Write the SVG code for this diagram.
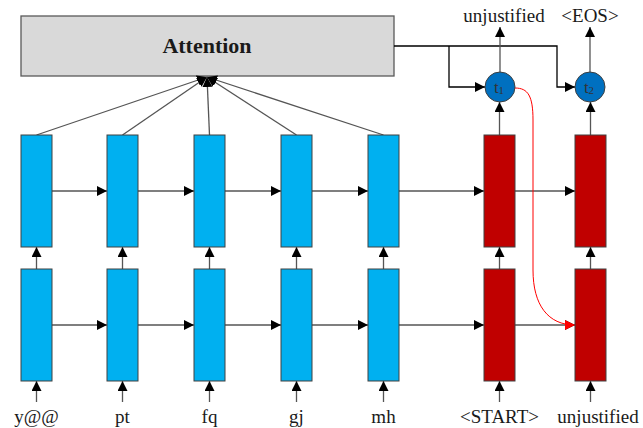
<svg xmlns="http://www.w3.org/2000/svg" width="643" height="428" viewBox="0 0 643 428">
<defs>
<marker id="ah" viewBox="0 0 10 10" refX="10" refY="5" markerWidth="10" markerHeight="10" markerUnits="userSpaceOnUse" orient="auto"><path d="M0,0 L10,5 L0,10 z" fill="#000"/></marker>
<marker id="ahr" viewBox="0 0 10 10" refX="10" refY="5" markerWidth="10" markerHeight="10" markerUnits="userSpaceOnUse" orient="auto"><path d="M0,0 L10,5 L0,10 z" fill="#FF0000"/></marker>
<style>
.blue{fill:#00B0F0;stroke:#404040;stroke-width:1}
.red{fill:#C00000;stroke:#404040;stroke-width:1}
.circ{fill:#0070C0;stroke:#404040;stroke-width:1}
.ln{fill:none;stroke:#555;stroke-width:1.3}
.lb{fill:none;stroke:#000;stroke-width:1.3}
text{font-family:'Liberation Serif','Times New Roman','DejaVu Serif',serif;fill:#1a1a1a;text-anchor:middle}
.lbl{font-size:19px}
.att{font-size:22px;font-weight:bold}
.ct{font-size:17px;fill:#333}
.sub{font-size:11px}
</style>
</defs>
<rect width="643" height="428" fill="#fff"/>
<g id="attention">
<rect x="21" y="16" width="373" height="60" fill="#D9D9D9" stroke="#595959" stroke-width="1.3"/>
<text x="207" y="53" class="att">Attention</text>
</g>
<g id="connectors">
<line class="ln" x1="36.5" y1="135" x2="207" y2="77" marker-end="url(#ah)"/>
<line class="ln" x1="122.5" y1="135" x2="207" y2="77" marker-end="url(#ah)"/>
<line class="ln" x1="209.5" y1="135" x2="207" y2="77" marker-end="url(#ah)"/>
<line class="ln" x1="296.5" y1="135" x2="207" y2="77" marker-end="url(#ah)"/>
<line class="ln" x1="383.5" y1="135" x2="207" y2="77" marker-end="url(#ah)"/>
<polyline class="lb" points="394,46 557,46 557,87 575,87" marker-end="url(#ah)"/>
<polyline class="lb" points="449,46 449,87 485,87" marker-end="url(#ah)"/>
<line class="ln" x1="500" y1="72" x2="500" y2="27" marker-end="url(#ah)"/>
<line class="ln" x1="590" y1="72" x2="590" y2="27" marker-end="url(#ah)"/>
<line class="ln" x1="499.5" y1="135" x2="499.5" y2="102" marker-end="url(#ah)"/>
<line class="ln" x1="590.5" y1="135" x2="590.5" y2="102" marker-end="url(#ah)"/>
<line class="ln" x1="52" y1="191" x2="107" y2="191" marker-end="url(#ah)"/>
<line class="ln" x1="138" y1="191" x2="194" y2="191" marker-end="url(#ah)"/>
<line class="ln" x1="225" y1="191" x2="281" y2="191" marker-end="url(#ah)"/>
<line class="ln" x1="312" y1="191" x2="368" y2="191" marker-end="url(#ah)"/>
<line class="ln" x1="399" y1="191" x2="484" y2="191" marker-end="url(#ah)"/>
<line class="ln" x1="515" y1="191" x2="575" y2="191" marker-end="url(#ah)"/>
<line class="ln" x1="52" y1="325" x2="107" y2="325" marker-end="url(#ah)"/>
<line class="ln" x1="138" y1="325" x2="194" y2="325" marker-end="url(#ah)"/>
<line class="ln" x1="225" y1="325" x2="281" y2="325" marker-end="url(#ah)"/>
<line class="ln" x1="312" y1="325" x2="368" y2="325" marker-end="url(#ah)"/>
<line class="ln" x1="399" y1="325" x2="484" y2="325" marker-end="url(#ah)"/>
<line class="ln" x1="515" y1="325" x2="575" y2="325" marker-end="url(#ah)"/>
<line class="ln" x1="36.5" y1="269" x2="36.5" y2="247" marker-end="url(#ah)"/>
<line class="ln" x1="122.5" y1="269" x2="122.5" y2="247" marker-end="url(#ah)"/>
<line class="ln" x1="209.5" y1="269" x2="209.5" y2="247" marker-end="url(#ah)"/>
<line class="ln" x1="296.5" y1="269" x2="296.5" y2="247" marker-end="url(#ah)"/>
<line class="ln" x1="383.5" y1="269" x2="383.5" y2="247" marker-end="url(#ah)"/>
<line class="ln" x1="499.5" y1="269" x2="499.5" y2="247" marker-end="url(#ah)"/>
<line class="ln" x1="590.5" y1="269" x2="590.5" y2="247" marker-end="url(#ah)"/>
<line class="ln" x1="36.5" y1="402" x2="36.5" y2="381" marker-end="url(#ah)"/>
<line class="ln" x1="122.5" y1="402" x2="122.5" y2="381" marker-end="url(#ah)"/>
<line class="ln" x1="209.5" y1="402" x2="209.5" y2="381" marker-end="url(#ah)"/>
<line class="ln" x1="296.5" y1="402" x2="296.5" y2="381" marker-end="url(#ah)"/>
<line class="ln" x1="383.5" y1="402" x2="383.5" y2="381" marker-end="url(#ah)"/>
<line class="ln" x1="499.5" y1="402" x2="499.5" y2="381" marker-end="url(#ah)"/>
<line class="ln" x1="590.5" y1="402" x2="590.5" y2="381" marker-end="url(#ah)"/>
<path d="M515,88 C528,88 533,96 533,120 L533,270 C533,305 548,325 575,325" fill="none" stroke="#FF0000" stroke-width="1" marker-end="url(#ahr)"/>
</g>
<g id="enc_top">
<rect class="blue" x="21" y="135" width="31" height="112"/>
<rect class="blue" x="107" y="135" width="31" height="112"/>
<rect class="blue" x="194" y="135" width="31" height="112"/>
<rect class="blue" x="281" y="135" width="31" height="112"/>
<rect class="blue" x="368" y="135" width="31" height="112"/>
</g>
<g id="dec_top">
<rect class="red" x="484" y="135" width="31" height="112"/>
<rect class="red" x="575" y="135" width="31" height="112"/>
</g>
<g id="enc_bottom">
<rect class="blue" x="21" y="269" width="31" height="112"/>
<rect class="blue" x="107" y="269" width="31" height="112"/>
<rect class="blue" x="194" y="269" width="31" height="112"/>
<rect class="blue" x="281" y="269" width="31" height="112"/>
<rect class="blue" x="368" y="269" width="31" height="112"/>
</g>
<g id="dec_bottom">
<rect class="red" x="484" y="269" width="31" height="112"/>
<rect class="red" x="575" y="269" width="31" height="112"/>
</g>
<g id="t1">
<circle class="circ" cx="500" cy="87" r="15"/>
<text x="499" y="93" class="ct">t<tspan class="sub" dy="1">1</tspan></text>
</g>
<g id="t2">
<circle class="circ" cx="590" cy="87" r="15"/>
<text x="589" y="93" class="ct">t<tspan class="sub" dy="1">2</tspan></text>
</g>
<g id="labels">
<text x="504" y="22" class="lbl">unjustified</text>
<text x="590" y="22" class="lbl">&lt;EOS&gt;</text>
<text x="36.5" y="423" class="lbl">y@@</text>
<text x="122.5" y="423" class="lbl">pt</text>
<text x="209.5" y="423" class="lbl">fq</text>
<text x="296.5" y="423" class="lbl">gj</text>
<text x="383.5" y="423" class="lbl">mh</text>
<text x="499.5" y="423" class="lbl">&lt;START&gt;</text>
<text x="598" y="423" class="lbl">unjustified</text>
</g>
</svg>
